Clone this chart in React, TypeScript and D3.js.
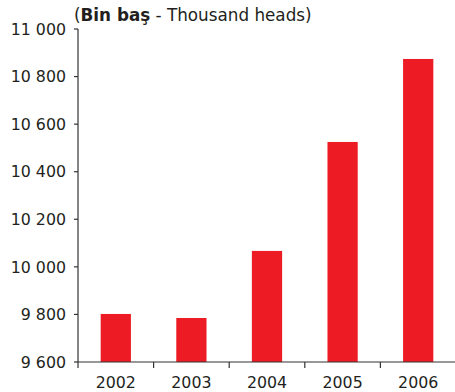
import React from "react";
import * as d3 from "d3";

const categories = ["2002", "2003", "2004", "2005", "2006"];
const values = [9802, 9785, 10067, 10525, 10874];
const yTicks = [9600, 9800, 10000, 10200, 10400, 10600, 10800, 11000];

const W = 455;
const H = 392;
const left = 78;
const right = 456;
const top = 29;
const bottom = 362;
const font = "'DejaVu Sans', Verdana, sans-serif";
const textColor = "#231f20";

export default function App() {
  const x = d3.scaleBand<string>().domain(categories).range([left, right]).paddingInner(0.6).paddingOuter(0.3);
  const xb = d3.scaleBand<string>().domain(categories).range([left, right]);
  const y = d3.scaleLinear().domain([9600, 11000]).range([bottom, top]);
  const fmt = (v: number) => d3.format(",")(v).replace(/,/g, " ");

  return (
    <svg width={W} height={H} style={{ position: "absolute", left: 0, top: 0 }}>
      <rect width={W} height={H} fill="#fff" />
      {categories.map((c, i) => (
        <rect key={c} x={x(c)!} y={y(values[i])} width={x.bandwidth()} height={bottom - y(values[i])} fill="#ed1c24" />
      ))}
      <line x1={left} x2={left} y1={top} y2={bottom} stroke="#333" strokeWidth={1.2} />
      <line x1={left} x2={W} y1={bottom} y2={bottom} stroke="#333" strokeWidth={1.2} />
      {yTicks.map((t) => (
        <g key={t}>
          <line x1={left - 4} x2={left} y1={y(t)} y2={y(t)} stroke="#333" strokeWidth={1.2} />
          <text x={left - 12} y={y(t)} dy="0.36em" textAnchor="end" fontFamily={font} fontSize={15.8} fill={textColor}>
            {fmt(t)}
          </text>
        </g>
      ))}
      {categories.map((c) => (
        <line key={"t" + c} x1={xb(c)!} x2={xb(c)!} y1={bottom} y2={bottom + 6} stroke="#333" strokeWidth={1.2} />
      ))}
      {categories.map((c) => (
        <text key={"l" + c} x={xb(c)! + xb.bandwidth() / 2} y={bottom + 26} textAnchor="middle" fontFamily={font} fontSize={15.8} fill={textColor}>
          {c}
        </text>
      ))}
      <text x={74} y={21} fontFamily={font} fontSize={16.8} fill={textColor}>
        (<tspan fontWeight="bold">Bin baş</tspan> - Thousand heads)
      </text>
    </svg>
  );
}
